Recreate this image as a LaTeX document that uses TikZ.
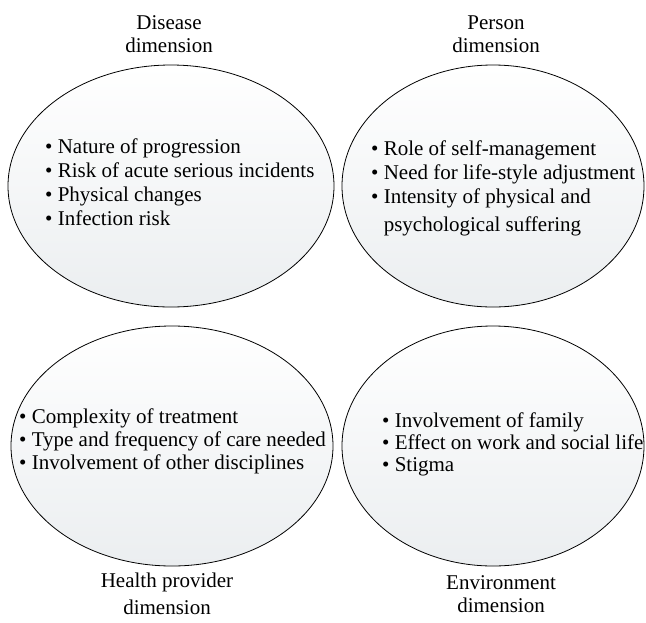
\documentclass[tikz,border=0pt]{standalone}
\usepackage{fontspec}
\setmainfont{Liberation Serif}
\usetikzlibrary{shapes.geometric}
\usetikzlibrary{positioning}
\definecolor{ellbottom}{RGB}{235,238,240}

\tikzset{
  dimbox/.style={ellipse, draw, line width=0.8pt, inner sep=0pt, top color=white, bottom color=ellbottom},
  dimlabel/.style={align=center, inner sep=0pt, anchor=base, font=\fontsize{21}{23}\selectfont},
  itemlist/.style={align=left, inner sep=0pt, anchor=base west, font=\fontsize{21}{24}\selectfont},
}

\begin{document}
\begin{tikzpicture}[x=1pt, y=-1pt]
            \useasboundingbox (0,0) rectangle (646,622);

            % Disease dimension
            \node[dimbox, minimum width=326pt, minimum height=242pt] (disease) at (171,186) {};
            \node[dimlabel] (diseaselabel) at (169,52) {Disease\\dimension};
            \node[itemlist] (diseaseitems) at (45,225) {\textbullet\ Nature of progression\\
              \textbullet\ Risk of acute serious incidents\\
              \textbullet\ Physical changes\\
              \textbullet\ Infection risk};

            % Person dimension
            \node[dimbox, minimum width=302pt, minimum height=242pt] (person) at (493,186) {};
            \node[dimlabel] (personlabel) at (496,52) {Person\\dimension};
            \node[itemlist] (personitems) at (371,231) {\textbullet\ Role of self-management\\
              \textbullet\ Need for life-style adjustment\\
              \textbullet\ Intensity of physical and\\[4pt]
              \phantom{\textbullet\ }psychological suffering};

            % Health provider dimension
            \node[dimbox, minimum width=322pt, minimum height=240pt] (provider) at (172,446) {};
            \node[dimlabel] (providerlabel) at (167,614) {Health provider\\[4pt]dimension};
            \node[itemlist, font=\fontsize{21}{23}\selectfont] (provideritems) at (19,469) {\textbullet\ Complexity of treatment\\
              \textbullet\ Type and frequency of care needed\\
              \textbullet\ Involvement of other disciplines};

            % Environment dimension
            \node[dimbox, minimum width=302pt, minimum height=240pt] (environment) at (493,446) {};
            \node[dimlabel] (environmentlabel) at (501,612) {Environment\\dimension};
            \node[itemlist, font=\fontsize{21}{22}\selectfont] (environmentitems) at (382,471) {\textbullet\ Involvement of family\\
              \textbullet\ Effect on work and social life\\
              \textbullet\ Stigma};

\end{tikzpicture}
\end{document}
